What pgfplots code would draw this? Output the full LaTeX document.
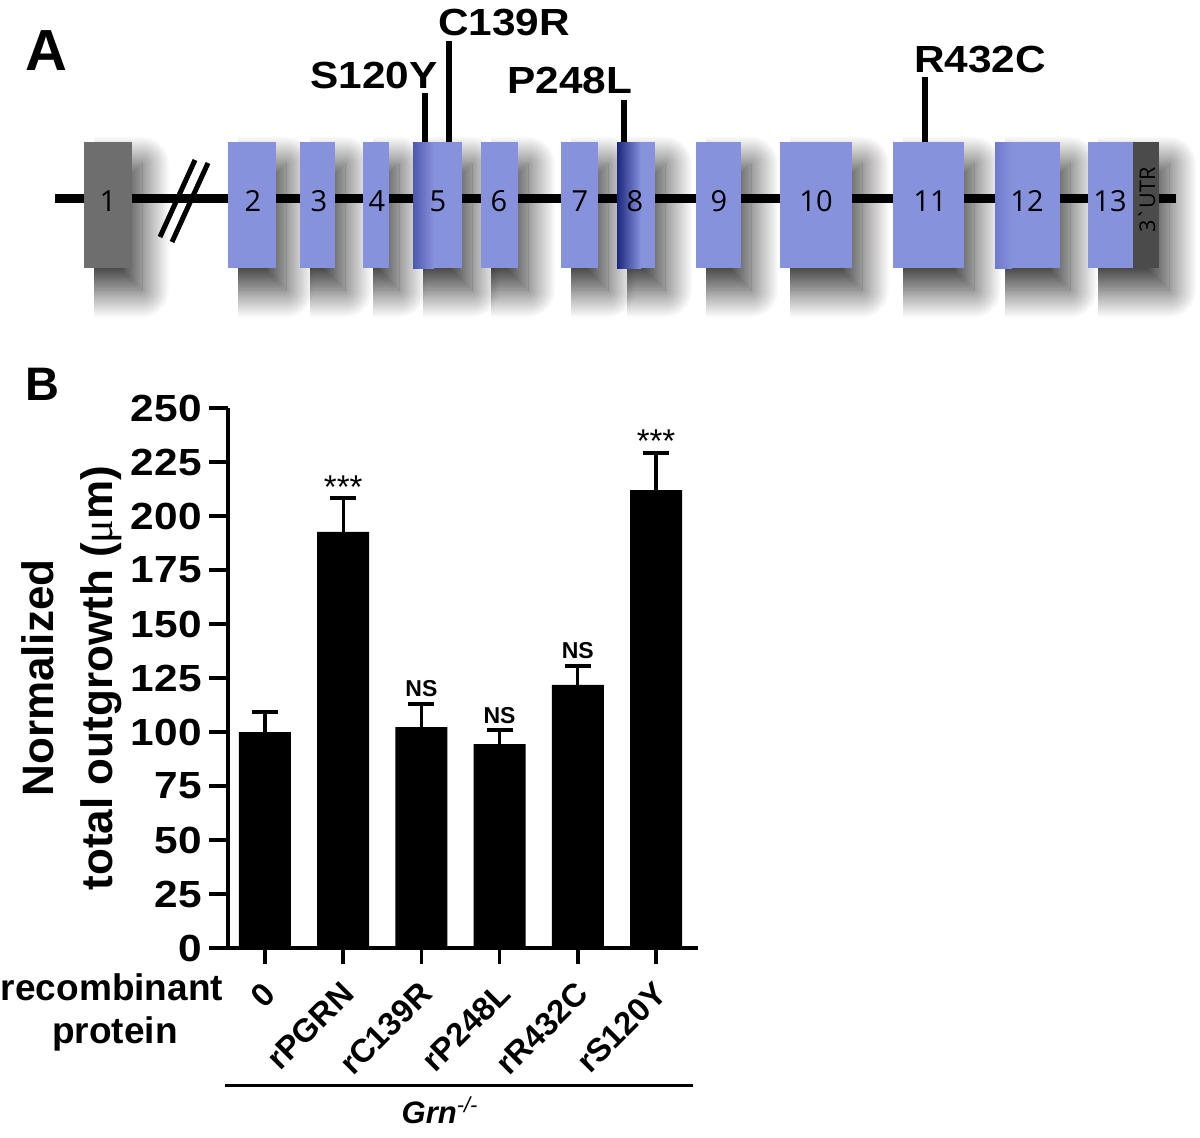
\documentclass[border=0pt]{standalone}
\usepackage{fontspec}
\setmainfont{Liberation Sans}
\newfontfamily\wideb[FakeStretch=1.12]{Liberation Sans}
\newfontfamily\exfont{Open Sans}
\newfontfamily\serifmu{Liberation Serif}
\usepackage{pgfplots}
\pgfplotsset{compat=1.18}
\usetikzlibrary{shadows.blur}
\definecolor{exon}{RGB}{135,146,221}
\definecolor{exonA}{RGB}{78,88,172}
\definecolor{exonB}{RGB}{28,40,125}
\definecolor{exonC}{RGB}{112,122,205}
\definecolor{exgray}{RGB}{110,110,110}
\definecolor{utrgray}{RGB}{75,75,75}
\newcommand{\shadowrect}[2]{\addplot[draw=none, fill=white, blur shadow={shadow xshift=5pt, shadow yshift=-11pt, shadow blur radius=14pt, shadow blur steps=40, shadow opacity=80}] coordinates {(#1,142) (#2,142) (#2,268) (#1,268)};}
\newcommand{\exon}[3]{\addplot[draw=none, fill=#3] coordinates {(#1,142) (#2,142) (#2,268) (#1,268)};}
\newcommand{\exnum}[2]{\node[font=\exfont\fontsize{14.5}{14.5}\selectfont, anchor=base, inner sep=0pt] at (axis cs:#1,211) {#2};}
\begin{document}
\begin{tikzpicture}
\useasboundingbox (0,0) rectangle (600pt,568.5pt);
\begin{axis}[at={(0,0)}, anchor=south west, scale only axis, width=600pt, height=568.5pt,
  xmin=0, xmax=1200, ymin=0, ymax=1137, y dir=reverse, axis lines=none, clip=false]
% shadows
\shadowrect{84}{132}
\shadowrect{228}{276}
\shadowrect{300}{335}
\shadowrect{363}{389}
\shadowrect{413}{462}
\shadowrect{481}{518}
\shadowrect{561}{598}
\shadowrect{617}{655}
\shadowrect{696}{741}
\shadowrect{780}{852}
\shadowrect{893}{964}
\shadowrect{995}{1060}
\shadowrect{1088}{1159}
% gene line and break
\addplot[black, line width=4.5pt] coordinates {(55,198.5) (1176,198.5)};
\addplot[black, line width=2.5pt] coordinates {(160,237) (195,160)};
\addplot[black, line width=2.5pt] coordinates {(172,242) (208,163)};
% exons
\exon{84}{132}{exgray}
\exon{228}{276}{exon}
\exon{300}{335}{exon}
\exon{363}{389}{exon}
\exon{413}{462}{exon}
\exon{481}{518}{exon}
\exon{561}{598}{exon}
\exon{617}{655}{exon}
\exon{696}{741}{exon}
\exon{780}{852}{exon}
\exon{893}{964}{exon}
\exon{995}{1060}{exon}
\exon{1088}{1133}{exon}
\exon{1133}{1159}{utrgray}
\addplot[draw=none, left color=exonA, right color=exon] coordinates {(413,142) (434,142) (434,268) (413,268)};
\addplot[draw=none, left color=exonB, right color=exon] coordinates {(617,142) (641,142) (641,268) (617,268)};
\addplot[draw=none, left color=exonC, right color=exon] coordinates {(995,142) (1012,142) (1012,268) (995,268)};
% exon numbers
\exnum{108}{1}
\exnum{253}{2}
\exnum{319}{3}
\exnum{377}{4}
\exnum{438}{5}
\exnum{499}{6}
\exnum{580}{7}
\exnum{635}{8}
\exnum{719}{9}
\exnum{816}{10}
\exnum{930}{11}
\exnum{1027}{12}
\exnum{1110}{13}
\node[rotate=90, anchor=base, inner sep=0pt, font=\exfont\fontsize{10.8}{10.8}\selectfont] at (axis cs:1155,200) {3`UTR};
% mutation ticks
\addplot[black, line width=2.7pt] coordinates {(425,93) (425,142)};
\addplot[black, line width=2.7pt] coordinates {(449,41) (449,142)};
\addplot[black, line width=2.7pt] coordinates {(624,100) (624,142)};
\addplot[black, line width=2.7pt] coordinates {(925,77) (925,142)};
\node[anchor=base, inner sep=0pt, font=\wideb\bfseries\fontsize{18.9}{19}\selectfont] at (axis cs:374,88) {S120Y};
\node[anchor=base, inner sep=0pt, font=\wideb\bfseries\fontsize{18.9}{19}\selectfont] at (axis cs:504,35) {C139R};
\node[anchor=base, inner sep=0pt, font=\wideb\bfseries\fontsize{18.9}{19}\selectfont] at (axis cs:570,93) {P248L};
\node[anchor=base, inner sep=0pt, font=\wideb\bfseries\fontsize{18.9}{19}\selectfont] at (axis cs:980,72) {R432C};
% panel letters
\node[anchor=base west, inner sep=0pt, font=\bfseries\fontsize{29}{29}\selectfont] at (axis cs:25,70) {A};
\node[anchor=base west, inner sep=0pt, font=\bfseries\fontsize{23.5}{23.5}\selectfont] at (axis cs:25,400) {B};
% y label
\node[rotate=90, anchor=base, inner sep=0pt, font=\bfseries\fontsize{22}{22}\selectfont] at (axis cs:53,678) {Normalized};
\node[rotate=90, anchor=base, inner sep=0pt, font=\bfseries\fontsize{22}{22}\selectfont] at (axis cs:112,678) {total outgrowth ({\serifmu\mdseries μ}m)};
% recombinant protein
\node[anchor=base, inner sep=0pt, font=\bfseries\fontsize{18.5}{18.5}\selectfont] at (axis cs:112,1000) {recombinant};
\node[anchor=base, inner sep=0pt, font=\bfseries\fontsize{18.5}{18.5}\selectfont] at (axis cs:115,1043) {protein};
% Grn-/-
\addplot[black, line width=1.5pt] coordinates {(225,1085) (693,1085)};
\node[anchor=base, inner sep=0pt, font=\bfseries\itshape\fontsize{15.5}{15.5}\selectfont] at (axis cs:440,1123) {Grn\textsuperscript{\mdseries -/-}};
\end{axis}

\begin{axis}[at={(114pt,94.5pt)}, anchor=south west, scale only axis, width=235pt, height=270pt,
  xmin=-0.473, xmax=5.537, ymin=0, ymax=250,
  axis x line=bottom, axis y line=left, axis line style={-, line width=1.75pt, black},
  ytick={0,25,...,250}, xtick={0,1,2,3,4,5},
  xticklabels={0,rPGRN,rC139R,rP248L,rR432C,rS120Y},
  tick align=outside, tick style={line width=1.75pt, black},
  major tick length=9.5pt,
  xtick style={/pgfplots/major tick length=8pt},
  /pgf/number format/assume math mode=true,
  yticklabel style={font=\wideb\bfseries\fontsize{18.9}{19}\selectfont, inner sep=0pt, xshift=-3.5pt},
  xticklabel style={font=\bfseries\fontsize{16.3}{16.3}\selectfont, xshift=2.5pt, yshift=-10.5pt, rotate=45, anchor=east, inner sep=0pt},
  clip=false]
\addplot[ybar, bar width=26pt, fill=black, draw=none,
  error bars/.cd, y dir=plus, y explicit, error mark=|,
  error bar style={line width=1.6pt, black},
  error mark options={mark size=6.5pt, line width=1.6pt, black}]
  coordinates {(0,100) +- (0,9.3) (1,192.6) +- (0,15.7) (2,102.3) +- (0,10.7) (3,94.4) +- (0,6.5) (4,121.8) +- (0,8.8) (5,212) +- (0,17.2)};
\node[anchor=base, inner sep=0pt, font=\fontsize{16.5}{16.5}\selectfont] at (axis cs:1,208.3) {***};
\node[anchor=base, inner sep=0pt, font=\fontsize{16.5}{16.5}\selectfont] at (axis cs:5,229.2) {***};
\node[anchor=base, inner sep=0pt, yshift=3.5pt, font=\bfseries\fontsize{11.5}{11.5}\selectfont] at (axis cs:2,113) {NS};
\node[anchor=base, inner sep=0pt, yshift=3.5pt, font=\bfseries\fontsize{11.5}{11.5}\selectfont] at (axis cs:3,100.9) {NS};
\node[anchor=base, inner sep=0pt, yshift=3.5pt, font=\bfseries\fontsize{11.5}{11.5}\selectfont] at (axis cs:4,130.6) {NS};
\end{axis}
\end{tikzpicture}
\end{document}
